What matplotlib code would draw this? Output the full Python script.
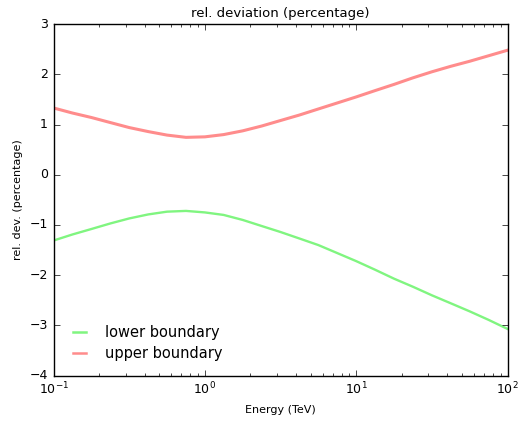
import matplotlib
matplotlib.use('agg')
import matplotlib.pyplot as plt

# energies (TeV) and relative deviation (%)
energy = [0.1, 0.133, 0.178, 0.237, 0.316, 0.422, 0.562, 0.75, 1.0,
          1.33, 1.78, 2.37, 3.16, 4.22, 5.62, 7.5, 10.0,
          13.3, 17.8, 23.7, 31.6, 42.2, 56.2, 75.0, 100.0]
upper = [1.33, 1.23, 1.14, 1.04, 0.94, 0.86, 0.79, 0.745, 0.755,
         0.80, 0.875, 0.97, 1.08, 1.19, 1.31, 1.43, 1.55,
         1.675, 1.80, 1.93, 2.05, 2.16, 2.26, 2.37, 2.48]
lower = [-1.31, -1.19, -1.08, -0.97, -0.87, -0.79, -0.735, -0.72, -0.75,
         -0.80, -0.90, -1.02, -1.14, -1.27, -1.40, -1.56, -1.72,
         -1.89, -2.07, -2.23, -2.40, -2.56, -2.72, -2.89, -3.07]

plt.style.use('classic')
fig = plt.figure(figsize=(5.2, 4.23), dpi=100, facecolor='white')
ax = fig.add_axes([0.103, 0.112, 0.873, 0.831])

ax.plot(energy, lower, color='#80f580', lw=1.7, label='lower boundary')
ax.plot(energy, upper, color='#ff8c8c', lw=2.2, label='upper boundary')

ax.set_xscale('log')
ax.set_xlim(0.1, 100)
ax.set_ylim(-4, 3)
ax.tick_params(labelsize=9)
ax.set_title('rel. deviation (percentage)', fontsize=9.5)
ax.set_xlabel('Energy (TeV)', fontsize=8)
ax.set_ylabel('rel. dev. (percentage)', fontsize=8)

leg = ax.legend(loc='lower left', frameon=False, fontsize=10.5,
                handlelength=1.5, handletextpad=1.0, labelspacing=0.4,
                borderaxespad=0.6)
for line in leg.get_lines():
    line.set_linewidth(1.8)

plt.savefig('out.png', dpi=100, facecolor='white')
